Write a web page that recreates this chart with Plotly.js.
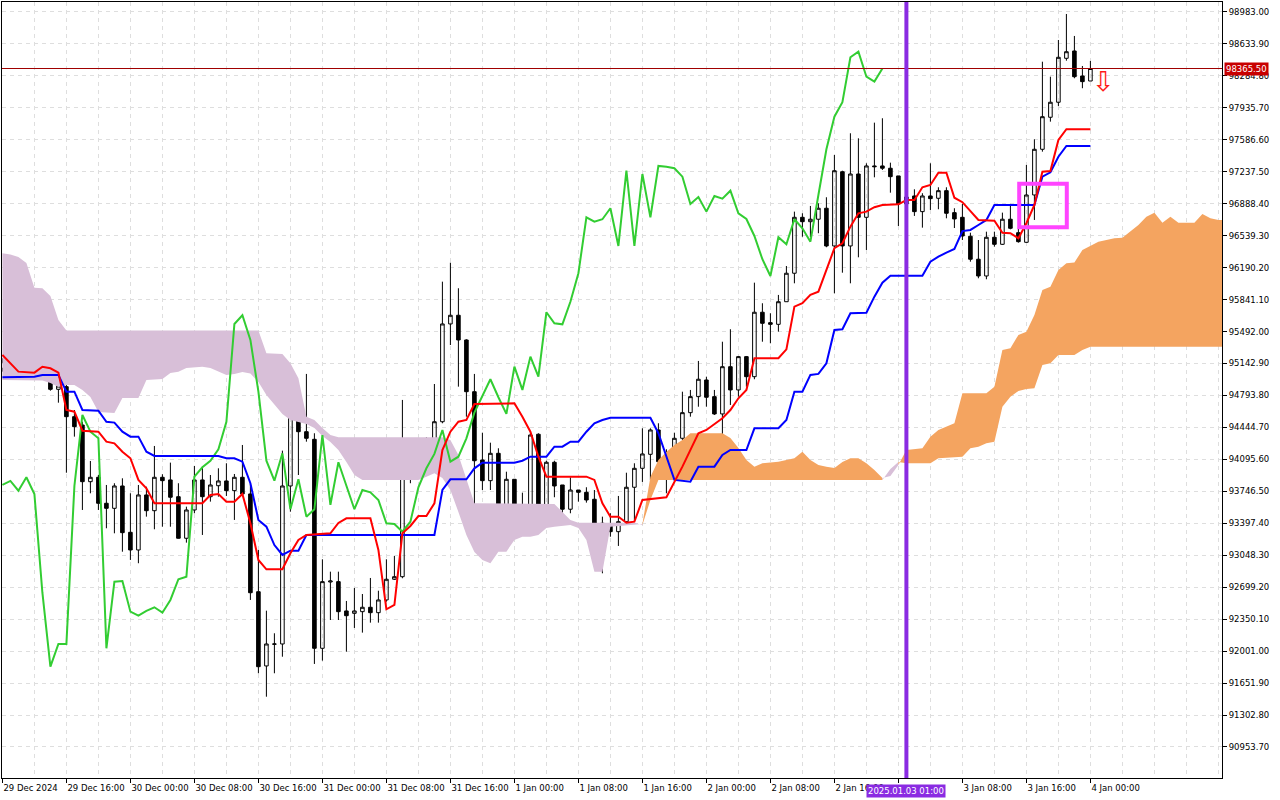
<!DOCTYPE html>
<html><head><meta charset="utf-8">
<script src="https://cdn.plot.ly/plotly-3.0.1.min.js"></script>
<style>html,body{margin:0;padding:0;background:#fff}#chart{width:1280px;height:800px}</style>
</head><body><div id="chart"></div>
<script>
// ---- time axis (hourly bars, index 0 = 29 Dec 2024 08:00) ----
const tickIdx = [0,8,16,24,32,40,48,56,64,72,80,88,96,104,112,120,128,136];
// the 3 Jan 00:00 label is hidden behind the highlighted cursor time in the original
const tickText = ['29 Dec 2024','29 Dec 16:00','30 Dec 00:00','30 Dec 08:00','30 Dec 16:00','31 Dec 00:00','31 Dec 08:00','31 Dec 16:00','1 Jan 00:00','1 Jan 08:00','1 Jan 16:00','2 Jan 00:00','2 Jan 08:00','2 Jan 16:00','','3 Jan 08:00','3 Jan 16:00','4 Jan 00:00'];
const priceTicks = [90953.70,91302.80,91651.90,92001.00,92350.10,92699.20,93048.30,93397.40,93746.50,94095.60,94444.70,94793.80,95142.90,95492.00,95841.10,96190.20,96539.30,96888.40,97237.50,97586.60,97935.70,98284.80,98633.90,98983.00];

// ---- OHLC ----
const open = [
95091,95152,95236,95091,95156,95116,94999,94861,94890,94562,
94471,93852,93900,93616,93561,93805,93299,93106,93707,93535,
93900,93871,93688,93234,93543,93871,93688,93808,93860,93754,
93900,93718,92650,91839,92076,92079,93805,94581,94398,94315,
92032,92756,92760,92440,92414,92432,92480,92421,92560,92786,
92814,93907,94009,94081,94206,94507,95575,95670,95400,94835,
94089,93863,94162,93551,93878,93470,93551,94370,93598,94064,
93816,93551,93761,93736,93660,93398,93390,93306,93415,93791,
93998,94151,94417,94071,94125,94326,94606,94781,94963,94781,
94592,95108,94854,95218,94999,95703,95589,95571,95818,96129,
96740,96692,96719,96839,96427,97238,96427,97213,96740,97301,
97301,97276,97192,96886,96973,96802,96973,96948,97031,96791,
96740,96533,96282,96099,96522,96445,96719,96572,96467,96984,
97483,97833,97997,98477,98557,98284,98229];
const high = [
95200,95261,95291,95182,95255,95152,95018,94982,95207,94635,
94507,94078,93925,93816,93835,93889,93725,93816,93797,94242,
93933,94060,93835,93579,94024,94016,93925,93998,94053,93936,
94253,93835,93106,92443,92196,94191,94671,94599,95029,94381,
93004,92869,92869,92549,92691,92625,92800,92661,93004,93040,
94745,94144,94253,94337,94919,96037,96244,95965,95408,95029,
94387,94278,94217,93961,93878,93732,94387,94381,94081,94081,
93816,93900,93761,93791,93761,93470,93507,93696,93950,94053,
94435,94435,94490,94206,94387,94835,94854,95171,94999,94854,
95381,95517,95225,95225,96026,95801,95692,95892,96208,96802,
96784,96864,96893,96959,97421,97249,97658,97603,97330,97774,
97822,97337,97192,97017,97046,97003,97330,97068,97068,96839,
96886,96572,96492,96583,96583,96791,96886,96620,97312,97592,
98440,98276,98677,98961,98721,98393,98448];
const low = [
95054,95054,95065,95043,95043,94971,94846,94715,93950,94344,
93543,93725,93543,93343,93288,93087,92997,92961,93470,93332,
93360,93360,93230,93186,93507,93270,93634,93688,93696,93434,
93707,92560,91759,91503,91759,91940,93524,93925,94289,91861,
91897,92341,92341,91995,92254,92203,92312,92312,92541,92778,
92797,93835,93907,93961,94198,94490,95345,94890,94562,93142,
93761,93761,93434,93452,93343,93354,93452,93543,93561,93682,
93507,93507,93634,93623,93270,92851,93251,93150,93398,93415,
93849,93871,93889,93725,93871,94308,94562,94671,94671,94581,
94362,94690,94781,94890,94971,95381,95364,95491,95818,96019,
96528,96522,96566,96413,95910,96135,96019,96303,96383,97177,
97257,97009,96645,96798,96755,96627,96820,96828,96729,96623,
96492,96255,96074,96063,96419,96438,96609,96463,96463,96711,
97457,97785,97956,98451,98259,98150,98229];
const close = [
95163,95236,95091,95156,95135,94999,94861,94897,94562,94453,
93852,93900,93616,93561,93805,93295,93106,93707,93535,93900,
93863,93682,93234,93543,93871,93688,93816,93860,93754,93900,
93718,92639,91831,92079,92079,93805,94581,94398,94326,92032,
92760,92767,92432,92388,92440,92480,92421,92560,92786,92814,
93907,94009,94081,94206,94507,95575,95670,95400,94835,94081,
93863,94162,93551,93878,93470,93551,94362,93598,94064,93805,
93551,93761,93736,93652,93398,93390,93306,93415,93791,93998,
94155,94417,94071,94125,94326,94606,94781,94971,94774,94592,
95108,94854,95218,94999,95703,95582,95571,95818,96129,96740,
96692,96719,96839,96427,97249,96427,97213,96740,97301,97293,
97276,97184,96886,96962,96802,96973,96944,97031,96784,96722,
96536,96282,96099,96522,96445,96719,96620,96474,96984,97483,
97839,97997,98488,98549,98276,98222,98365.5];

// ---- Ichimoku lines (bar index, price) ----
const tenkanX = [0,2,4,5,6,7,8,9,10,12,13,14,15,16,17,18,19,25,26,27,28,29,30,31,32,33,35,36,37,38,41,42,43,46,47,48,49,50,51,52,53,54,55,56,57,58,59,64,65,66,67,68,73,74,75,76,77,78,79,80,83,85,87,88,90,91,92,93,94,97,98,99,100,101,102,104,105,106,107,108,109,110,112,113,114,115,116,117,118,119,120,121,122,124,125,126,127,128,129,130,131,132,133,136];
const tenkanY = [95236,95054,95043,95108,95091,95043,94635,94617,94409,94398,94289,94271,94180,94108,93871,93780,93616,93616,93707,93718,93634,93634,93718,93398,92997,92895,92895,93070,93215,93270,93288,93401,93452,93452,93106,92458,92505,93288,93368,93477,93477,93616,94198,94398,94507,94526,94701,94708,94562,94398,94125,93907,93907,93871,93616,93470,93470,93404,93415,93652,93682,94016,94381,94417,94545,94635,94763,94854,95200,95200,95298,95764,95801,95892,95928,96402,96456,96638,96784,96802,96850,96875,96882,96929,96929,97068,97093,97228,97228,96954,96905,96802,96711,96703,96572,96566,96511,96675,96875,97238,97246,97585,97702,97702];
const kijunX = [0,4,5,7,8,9,10,12,13,14,15,16,17,18,19,27,28,29,30,31,32,33,34,35,36,37,38,54,55,56,58,59,60,64,65,66,68,69,70,71,72,73,74,75,76,81,82,83,84,86,87,89,90,91,93,94,97,98,99,100,101,102,103,104,105,106,108,109,110,111,115,116,117,118,119,120,121,122,123,124,129,130,131,132,133,136];
const kijunY = [94993,94999,95018,95018,94835,94835,94635,94628,94507,94497,94398,94344,94344,94180,94133,94133,94108,94108,94071,93835,93434,93360,93160,93051,93098,93098,93270,93270,93761,93878,93878,93998,94060,94060,94081,94125,94125,94234,94234,94289,94289,94398,94490,94526,94551,94551,94381,94125,93871,93852,94016,94016,94144,94198,94198,94435,94435,94526,94835,94835,95018,95029,95145,95509,95517,95692,95698,95873,96026,96102,96102,96255,96310,96354,96394,96590,96602,96656,96711,96875,96875,97184,97232,97402,97519,97519];
const chikouShift = 26;
const spanAX = [0,4,5,6,7,8,9,10,11,12,14,15,17,18,20,21,22,23,25,26,27,28,29,30,31,32,33,34,35,36,37,38,39,40,41,42,43,44,45,52,53,54,55,56,57,58,59,60,61,62,63,64,65,66,67,68,69,70,71,72,73,74,75,76,79,80,81,82,83,84,85,86,90,91,92,93,94,95,97,99,100,101,102,103,104,105,106,107,108,109,110,111,112,113,115,116,117,119,120,123,124,125,126,127,128,129,130,131,132,133,134,135,137,139,140,141,142,143,144,145,146,147,149,150,151,152,153];
const spanA = [94963,94963,94958,94930,94887,94908,94908,94854,94777,94613,94602,94766,94766,94963,94974,95039,95054,95094,95108,95094,95054,95018,95029,95050,95035,94941,94799,94690,94592,94526,94504,94482,94439,94351,94286,94198,94067,93925,93871,93871,93907,93944,93892,93761,93521,93270,93084,92997,92961,93087,93087,93215,93251,93251,93270,93346,93360,93368,93379,93346,93215,92869,92869,93360,93379,93390,93903,94089,94177,94253,94308,94381,94381,94329,94220,94089,94016,94053,94071,94108,94180,94089,94034,94016,94002,94067,94108,94108,94053,93980,93892,93914,94034,94198,94217,94344,94417,94490,94818,94818,94890,95291,95309,95455,95491,95673,95946,95982,96165,96238,96245,96383,96474,96511,96518,96583,96656,96747,96791,96681,96747,96681,96681,96776,96729,96711,96711];
const spanBX = [0,1,2,3,4,5,6,7,8,32,33,35,36,37,38,39,40,41,42,55,56,57,58,59,69,70,71,72,79,80,81,82,110,111,112,113,116,117,120,121,122,123,124,125,126,127,128,129,130,131,132,134,135,136,153];
const spanB = [96347,96334,96307,96241,95971,95965,95881,95618,95504,95504,95255,95247,95145,94982,94562,94526,94439,94362,94337,94337,94308,94144,93871,93616,93608,93521,93434,93404,93404,93379,93652,93871,93871,93991,94067,94053,94053,94108,94125,94217,94234,94271,94289,94671,94781,94843,94865,94872,95127,95145,95236,95236,95291,95327,95327];
// cloud segments: [from, to, bullish?]
const cloudSegments = [[0,80,false],[80,110,true],[110,112,false],[112,153,true]];

// ---- chart objects ----
const lastPrice = 98365.5;
const markerIdx = 113, markerLabel = '2025.01.03 01:00';
const boxIdx = [127.1, 133.05], boxPrice = [96631, 97107];
const signalIdx = [137.6], signalPrice = [98195];

const FONT = 'DejaVu Sans, Verdana, sans-serif';
const traces = [];
function pick(xs, ys, a, b){ const X=[],Y=[]; xs.forEach((x,k)=>{ if(x>=a && x<=b){X.push(x);Y.push(ys[k]);} }); return [X,Y]; }
cloudSegments.forEach(([a,b,bull])=>{
  const [ax,ay] = pick(spanAX, spanA, a, b);
  const [bx,by] = pick(spanBX, spanB, a, b);
  const col = bull ? '#f4a460' : '#d8bfd8';
  traces.push({type:'scatter', mode:'lines', x: ax.concat(bx.slice().reverse()), y: ay.concat(by.slice().reverse()),
    fill:'toself', fillcolor: col, line:{width:0, color: col}, hoverinfo:'skip', showlegend:false});
});
const idx = open.map((_,i)=>i);
traces.push({type:'candlestick', x: idx, open, high, low, close, whiskerwidth:0,
  increasing:{line:{color:'#000', width:1}, fillcolor:'rgba(0,0,0,0)'},
  decreasing:{line:{color:'#000', width:1}, fillcolor:'#000'}, showlegend:false, hoverinfo:'skip'});
const chik = close.slice(chikouShift);
traces.push({type:'scatter', mode:'lines', x: chik.map((_,k)=>k), y: chik, line:{color:'#32cd32', width:2}, showlegend:false, hoverinfo:'skip'});
traces.push({type:'scatter', mode:'lines', x: kijunX, y: kijunY, line:{color:'#0000ff', width:2}, showlegend:false, hoverinfo:'skip'});
traces.push({type:'scatter', mode:'lines', x: tenkanX, y: tenkanY, line:{color:'#ff0000', width:2}, showlegend:false, hoverinfo:'skip'});
traces.push({type:'scatter', mode:'text', x: signalIdx, y: signalPrice, text:['\u21E9'], textposition:'middle center',
  textfont:{family:FONT, size:27, color:'#ff1a1a'}, showlegend:false, hoverinfo:'skip'});

const layout = {
  width:1280, height:800, margin:{l:2, r:58, t:2, b:22},
  paper_bgcolor:'#fff', plot_bgcolor:'#fff', showlegend:false, hovermode:false, boxgap:0.36,
  font:{family:FONT, size:8.5, color:'#000'},
  xaxis:{range:[-0.05,152.45], tickmode:'array', tickvals:tickIdx, ticktext:tickText, ticks:'outside', ticklen:4, tickcolor:'#000',
    tickangle:0, ticklabelposition:'outside right', ticklabelstandoff:2, showgrid:true, gridcolor:'#dedede', griddash:'4px,4px', gridwidth:1,
    minor:{tickmode:'linear', tick0:0, dtick:4, showgrid:true, gridcolor:'#dedede', griddash:'4px,4px', ticks:''},
    showline:true, linecolor:'#000', linewidth:1, mirror:true, zeroline:false, rangeslider:{visible:false},
    tickfont:{family:FONT, size:8.5, color:'#000'}},
  yaxis:{range:[90615,99092], side:'right', tickmode:'array', tickvals:priceTicks, ticktext:priceTicks.map(v=>v.toFixed(2)),
    ticks:'outside', ticklen:4, tickcolor:'#000', showgrid:true, gridcolor:'#dedede', griddash:'4px,4px',
    showline:true, linecolor:'#000', linewidth:1, mirror:true, zeroline:false,
    tickfont:{family:FONT, size:8.5, color:'#000'}},
  shapes:[
    {type:'line', xref:'paper', x0:0, x1:1, yref:'y', y0:lastPrice, y1:lastPrice, line:{color:'#a00000', width:1}, layer:'above'},
    {type:'line', xref:'x', x0:markerIdx, x1:markerIdx, yref:'paper', y0:0, y1:1, line:{color:'#8a2be2', width:4}, layer:'above'},
    {type:'rect', xref:'x', x0:boxIdx[0], x1:boxIdx[1], yref:'y', y0:boxPrice[0], y1:boxPrice[1], line:{color:'#ff44ff', width:4}, fillcolor:'rgba(0,0,0,0)', layer:'above'}
  ],
  annotations:[
    {xref:'x', x:markerIdx, yref:'paper', y:0, yanchor:'top', xanchor:'center', yshift:-6, text:markerLabel, showarrow:false,
      bgcolor:'#8a2be2', borderpad:1, font:{family:FONT, size:8.5, color:'#fff'}},
    {xref:'paper', x:1, xanchor:'left', xshift:2, yref:'y', y:lastPrice, yanchor:'middle', text:lastPrice.toFixed(2), showarrow:false,
      bgcolor:'#c80000', borderpad:1, font:{family:FONT, size:8.5, color:'#fff'}}
  ]
};
Plotly.newPlot('chart', traces, layout, {displayModeBar:false, staticPlot:true});
</script></body></html>
